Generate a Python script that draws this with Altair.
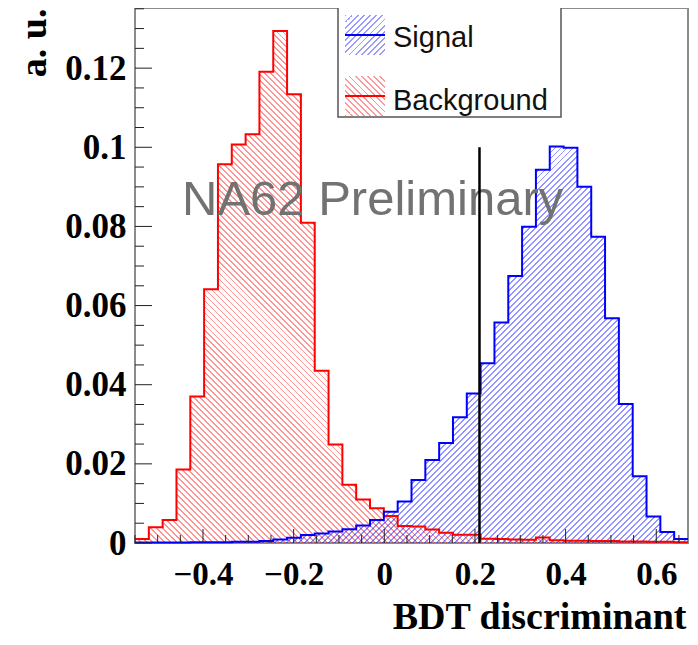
import altair as alt
import pandas as pd

# ---------------- data ----------------
x_min = -0.55          # first bin edge
bin_w = 0.0305         # bin width (40 bins)
signal = [0.0001, 0.0001, 0.0001, 0.0001, 0.0002, 0.0002, 0.0002, 0.0003, 0.0003, 0.0005,
          0.0009, 0.0013, 0.0020, 0.0024, 0.0029, 0.0035, 0.0044, 0.0058, 0.0079, 0.0105,
          0.0159, 0.0210, 0.0253, 0.0318, 0.0378, 0.0454, 0.0557, 0.0675, 0.0799, 0.0943,
          0.1002, 0.0999, 0.0900, 0.0774, 0.0568, 0.0351, 0.0169, 0.0067, 0.0028, 0.0010]
background = [0.0010, 0.0040, 0.0058, 0.0186, 0.0370, 0.0641, 0.0957, 0.1007, 0.1033, 0.1191,
              0.1294, 0.1134, 0.0809, 0.0435, 0.0249, 0.0147, 0.0110, 0.0088, 0.0068, 0.0043,
              0.0042, 0.0034, 0.0026, 0.0021, 0.0021, 0.0011, 0.0010, 0.0009, 0.0008, 0.0014,
              0.0007, 0.0006, 0.0006, 0.0005, 0.0005, 0.0004, 0.0004, 0.0003, 0.0003, 0.0002]
series_names = ["Signal", "Background"]
cut_x = [0.21]
cut_y = [0.0]
cut_y2 = [0.1]

x_domain = [-0.55, 0.67]
y_domain = [0.0, 0.1352]
x_major = [-0.4, -0.2, 0, 0.2, 0.4, 0.6]
x_minor = [-0.55, -0.5, -0.45, -0.35, -0.3, -0.25, -0.15, -0.1, -0.05, 0.05, 0.1, 0.15,
           0.25, 0.3, 0.35, 0.45, 0.5, 0.55, 0.65]
y_major = [0, 0.02, 0.04, 0.06, 0.08, 0.1, 0.12]
y_minor = [0.005, 0.01, 0.015, 0.025, 0.03, 0.035, 0.045, 0.05, 0.055, 0.065, 0.07, 0.075,
           0.085, 0.09, 0.095, 0.105, 0.11, 0.115, 0.125, 0.13, 0.135]

# ---------------- layout / style ----------------
W, H = 553, 535
BLUE, RED = "#0000ff", "#ff0000"
SERIF = "Liberation Serif"
SANS = "Liberation Sans"
HATCH_SPACING = 6.0


def hatch(rgba, w, h, forward=True, frac=0.3):
    """Diagonal hatch emulated with a striped linear gradient (bbox units)."""
    n = max(2, int(round((w + h) / HATCH_SPACING)))
    k = (w + h) / (w * w + h * h)
    a, b = k * w, k * h
    if forward:   # '////'
        x1, y1, x2, y2 = 0, 0, a, b
    else:         # '\\\\'
        x1, y1, x2, y2 = 0, 1, a, 1 - b
    clear = "rgba(255,255,255,0)"
    stops = []
    for i in range(n):
        o0 = round(i / n, 6)
        o1 = round((i + frac) / n, 6)
        o2 = round((i + 1) / n, 6)
        stops += [{"offset": o0, "color": rgba}, {"offset": o1, "color": rgba},
                  {"offset": o1, "color": clear}, {"offset": o2, "color": clear}]
    return {"gradient": "linear", "x1": x1, "y1": y1, "x2": x2, "y2": y2, "stops": stops}


edges = [round(x_min + i * bin_w, 5) for i in range(len(signal) + 1)]


def hist_df(vals):
    return pd.DataFrame({"x": edges, "y": list(vals) + [vals[-1]]})


sig_df = hist_df(signal)
bkg_df = hist_df(background)

xs = alt.Scale(domain=x_domain, nice=False, zero=False)
ys = alt.Scale(domain=y_domain, nice=False, zero=False)

xaxis = alt.Axis(values=x_major, format="~g", title="BDT discriminant",
                 grid=False, domain=False, ticks=False, tickSize=0,
                 labelFont=SERIF, labelFontWeight="bold", labelFontSize=33, labelColor="black",
                 labelPadding=15, labelOverlap=False, labelFlush=False,
                 titleFont=SERIF, titleFontWeight="bold", titleFontSize=38, titleColor="black",
                 titleAlign="right", titleAnchor="end", titleBaseline="alphabetic",
                 titleX=551, titleY=85)
yaxis = alt.Axis(values=y_major, format="~g", title="a. u.",
                 grid=False, domain=False, ticks=False, tickSize=0,
                 labelFont=SERIF, labelFontWeight="bold", labelFontSize=35, labelColor="black",
                 labelPadding=9, labelOverlap=False, labelFlush=False,
                 titleFont=SERIF, titleFontWeight="bold", titleFontSize=38, titleColor="black",
                 titleAngle=270, titleAlign="right", titleBaseline="alphabetic",
                 titleX=-90, titleY=0)

X = alt.X("x:Q", scale=xs, axis=xaxis)
Y = alt.Y("y:Q", scale=ys, axis=yaxis)

h_bkg = max(background) / y_domain[1] * H
h_sig = max(signal) / y_domain[1] * H

bkg_area = alt.Chart(bkg_df).mark_area(
    interpolate="step-after", opacity=1,
    fill=hatch("rgba(255,0,0,0.42)", W, h_bkg, forward=False)).encode(x=X, y=Y)
sig_area = alt.Chart(sig_df).mark_area(
    interpolate="step-after", opacity=1,
    fill=hatch("rgba(0,0,255,0.42)", W, h_sig, forward=True)).encode(x=X, y=Y)
bkg_line = alt.Chart(bkg_df).mark_line(
    interpolate="step-after", color=RED, strokeWidth=2).encode(x=X, y=Y)
sig_line = alt.Chart(sig_df).mark_line(
    interpolate="step-after", color=BLUE, strokeWidth=2).encode(x=X, y=Y)

watermark = alt.Chart(pd.DataFrame({"t": ["NA62 Preliminary"]})).mark_text(
    font=SANS, fontSize=49, color="#727272", align="left", baseline="alphabetic"
).encode(x=alt.value(47), y=alt.value(207), text="t:N")

cut = alt.Chart(pd.DataFrame({"x": cut_x, "y": cut_y, "y2": cut_y2})).mark_rule(
    color="black", strokeWidth=2.5).encode(x=X, y=Y, y2="y2:Q")


# inward ticks (ROOT style)
def xticks(vals, length):
    return alt.Chart(pd.DataFrame({"x": vals})).mark_rule(color="#222", strokeWidth=1).encode(
        x=X, y=alt.value(H), y2=alt.value(H - length))


def yticks(vals, length):
    return alt.Chart(pd.DataFrame({"y": vals})).mark_rule(color="#222", strokeWidth=1).encode(
        y=Y, x=alt.value(0), x2=alt.value(length))


ticks = [xticks(x_major, 14), xticks(x_minor, 8), yticks(y_major, 17), yticks(y_minor, 9)]

# legend
one = pd.DataFrame({"k": [1]})
leg_box = alt.Chart(one).mark_rect(fill="white", stroke="#555555", strokeWidth=1.5).encode(
    x=alt.value(203), x2=alt.value(426), y=alt.value(-1), y2=alt.value(109))
legend_layers = [leg_box]
leg_specs = [
    (series_names[0], "rgba(0,0,255,0.4)", BLUE, True, 7, 27, 38.7),
    (series_names[1], "rgba(255,0,0,0.4)", RED, False, 68, 88, 102),
]
for name, hcol, lcol, fwd, top, ly, ty in leg_specs:
    legend_layers.append(alt.Chart(one).mark_rect(fill=hatch(hcol, 40, 40, forward=fwd)).encode(
        x=alt.value(210), x2=alt.value(250), y=alt.value(top), y2=alt.value(top + 40)))
    legend_layers.append(alt.Chart(one).mark_rule(color=lcol, strokeWidth=2).encode(
        x=alt.value(210), x2=alt.value(250), y=alt.value(ly)))
    legend_layers.append(alt.Chart(pd.DataFrame({"t": [name]})).mark_text(
        font=SANS, fontSize=29, color="#111111", align="left", baseline="alphabetic").encode(
        x=alt.value(258), y=alt.value(ty), text="t:N"))

chart = alt.layer(
    bkg_area, sig_area, bkg_line, sig_line, watermark, cut, *ticks, *legend_layers
).properties(
    width=W, height=H,
    autosize=alt.AutoSizeParams(type="none"),
    padding={"left": 127, "top": 0, "right": 2, "bottom": 94},
    background="white",
).configure_view(
    stroke="#8c8c8c", strokeWidth=2
)

chart.save("out.html", embed_options={"renderer": "svg", "actions": False})
